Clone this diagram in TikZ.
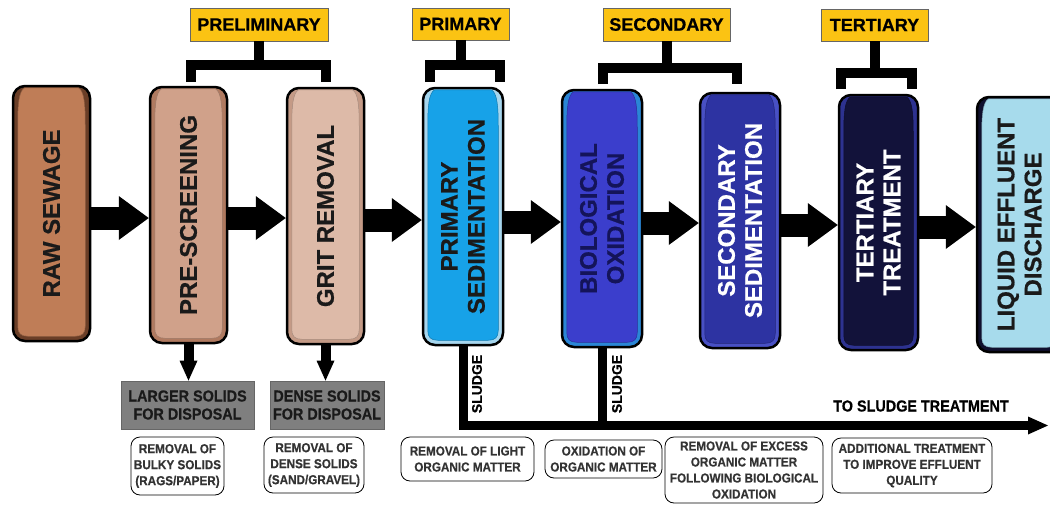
\documentclass[tikz,border=0pt]{standalone}
\usepackage{fontspec}
\setmainfont{Liberation Sans}
\newfontfamily\heavyfont{Liberation Sans}[BoldFeatures={FakeBold=0.6}]
\newfontfamily\narrowfont{Liberation Sans}[FakeStretch=0.9, BoldFeatures={FakeBold=0.5}]
\usetikzlibrary{arrows.meta,calc}

\definecolor{rawOut}{HTML}{6A3E27}\definecolor{rawIn}{HTML}{BF7D57}
\definecolor{preOut}{HTML}{B07A60}\definecolor{preIn}{HTML}{D0A18A}
\definecolor{gritOut}{HTML}{C49A86}\definecolor{gritIn}{HTML}{DDBAA8}
\definecolor{primOut}{HTML}{A6D6EE}\definecolor{primIn}{HTML}{17A2E8}
\definecolor{bioOut}{HTML}{2A86D6}\definecolor{bioIn}{HTML}{3B3ECC}
\definecolor{secOut}{HTML}{4850C4}\definecolor{secIn}{HTML}{2D33A2}
\definecolor{terOut}{HTML}{2D3290}\definecolor{terIn}{HTML}{12123A}
\definecolor{liqOut}{HTML}{10102E}\definecolor{liqIn}{HTML}{A7DBEC}
\definecolor{labelYellow}{HTML}{FBC313}
\definecolor{solidGray}{HTML}{7F7F7F}
\definecolor{darkText}{HTML}{1A1A1A}
\definecolor{descText}{HTML}{333333}
\definecolor{bioText}{HTML}{14145A}

\newcommand\stagebox[9]{%
  \node[stage, fill=#6, minimum width={(#4-#2)*1pt}, minimum height={(#5-#3)*1pt}] (#1) at ({(#2+#4)/2},{(#3+#5)/2}) {};
  \path[fill=#7, draw=#7!75!black, line width=0.5pt]
    ($(#1.north west)+(13,3)$) .. controls ($(#1.north west)+(7,6)$) and ($(#1.north west)+(6,20)$) .. ($(#1.north west)+(6,40)$)
    -- ($(#1.south west)+(6,-16)$) .. controls ($(#1.south west)+(6,-9)$) and ($(#1.south west)+(9,-6)$) .. ($(#1.south west)+(16,-6)$)
    -- ($(#1.south east)+(-16,-6)$) .. controls ($(#1.south east)+(-9,-6)$) and ($(#1.south east)+(-6,-9)$) .. ($(#1.south east)+(-6,-16)$)
    -- ($(#1.north east)+(-6,40)$) .. controls ($(#1.north east)+(-6,20)$) and ($(#1.north east)+(-7,6)$) .. ($(#1.north east)+(-13,3)$)
    -- cycle;
  \node[stagetext, text=#8] (#1t) at (#1.center) {#9};
}

\begin{document}
\begin{tikzpicture}[x=1pt,y=-1pt,
  stage/.style={draw=black, line width=2.5pt, rounded corners=12pt, inner sep=0pt},
  stagetext/.style={rotate=90, align=center, font=\heavyfont\bfseries\fontsize{24}{27}\selectfont},
  flow/.style={line width=23pt, -{Triangle[length=30pt,width=44pt,line width=0pt]}},
  downflow/.style={line width=10pt, -{Triangle[length=20pt,width=18pt,line width=0pt]}},
  sludgeline/.style={line width=9pt, line join=miter},
  bracket/.style={line width=10pt, line join=miter},
  phase/.style={fill=labelYellow, draw=black!60, line width=0.8pt, inner sep=0pt, font=\heavyfont\bfseries\fontsize{18}{20}\selectfont, text=black},
  solids/.style={fill=solidGray, draw=black!60, line width=0.8pt, inner sep=0pt, align=center, text=darkText, font=\narrowfont\bfseries\fontsize{16}{18}\selectfont},
  desc/.style={fill=white, draw=black, line width=0.8pt, rounded corners=9pt, inner sep=0pt, align=center, text=descText, font=\narrowfont\bfseries\fontsize{13}{16}\selectfont},
  sludgetext/.style={rotate=90, font=\heavyfont\bfseries\fontsize{14}{16}\selectfont, text=black}
]
\fill[white] (0,0) rectangle (1050,504);
\useasboundingbox (0,0) rectangle (1050,504);

% stage boxes
\stagebox{raw}{13}{86}{90}{341}{rawOut}{rawIn}{darkText}{RAW SEWAGE}
\stagebox{pre}{150}{87}{227}{343}{preOut}{preIn}{darkText}{PRE-SCREENING}
\stagebox{grit}{287}{88}{364}{344}{gritOut}{gritIn}{darkText}{GRIT REMOVAL}
\stagebox{prim}{423}{88}{503}{345}{primOut}{primIn}{darkText}{PRIMARY\\SEDIMENTATION}
\stagebox{bio}{562}{90}{642}{347}{bioOut}{bioIn}{bioText}{BIOLOGICAL\\OXIDATION}
\stagebox{sec}{700}{93}{780}{348}{secOut}{secIn}{white}{SECONDARY\\SEDIMENTATION}
\stagebox{ter}{839}{95}{918}{350}{terOut}{terIn}{white}{TERTIARY\\TREATMENT}
\stagebox{liq}{977}{97}{1062}{352}{liqOut}{liqIn}{darkText}{LIQUID EFFLUENT\\DISCHARGE}

% flow arrows
\coordinate (ya) at (0,218);
\coordinate (yb) at (0,218);
\coordinate (yc) at (0,220);
\coordinate (yd) at (0,222);
\coordinate (ye) at (0,223);
\coordinate (yf) at (0,225);
\coordinate (yg) at (0,227);
\draw[flow] (raw.east |- ya) -- (pre.west |- ya);
\draw[flow] (pre.east |- yb) -- (grit.west |- yb);
\draw[flow] (grit.east |- yc) -- (prim.west |- yc);
\draw[flow] (prim.east |- yd) -- (bio.west |- yd);
\draw[flow] (bio.east |- ye) -- (sec.west |- ye);
\draw[flow] (sec.east |- yf) -- (ter.west |- yf);
\draw[flow] (ter.east |- yg) -- (liq.west |- yg);

% phase labels
\node[phase, minimum width=138pt, minimum height=33pt] (prelim) at (259,24.5) {PRELIMINARY};
\node[phase, minimum width=97pt, minimum height=32pt] (primary) at (460.5,24) {PRIMARY};
\node[phase, minimum width=127pt, minimum height=33pt] (secondary) at (666.5,24.5) {SECONDARY};
\node[phase, minimum width=107pt, minimum height=32pt] (tertiary) at (874.5,25) {TERTIARY};

% brackets
\draw[bracket] (prelim.south) -- ++(0,25);
\draw[bracket] (191,82) |- (326,65) -- (326,82);
\draw[bracket] (primary.south) -- ++(0,26);
\draw[bracket] (430,82) |- (500,65) -- (500,82);
\draw[bracket] (secondary.south) -- ++(0,27);
\draw[bracket] (603,84) |- (737,67.5) -- (737,84);
\draw[bracket] (tertiary.south) -- ++(0,32);
\draw[bracket] (841,89) |- (912,72.5) -- (912,89);

% solids boxes
\node[solids, minimum width=133pt, minimum height=48pt] (larger) at (187.5,405) {LARGER SOLIDS\\FOR DISPOSAL};
\node[solids, minimum width=114pt, minimum height=48pt] (dense) at (327,405) {DENSE SOLIDS\\FOR DISPOSAL};
\draw[downflow] (pre.south) -- (pre.south |- larger.north);
\draw[downflow] (grit.south) -- (grit.south |- dense.north);

% sludge lines
\coordinate (sludgeEnd) at (1048,425.5);
\draw[sludgeline, -{Triangle[length=20pt,width=18pt,line width=0pt]}] (prim.south) |- (sludgeEnd);
\draw[sludgeline] (bio.south) -- (bio.south |- sludgeEnd);
\node[sludgetext] (sl1) at (477,384) {SLUDGE};
\node[sludgetext] (sl2) at (617,384) {SLUDGE};
\node[font=\narrowfont\bfseries\fontsize{16}{18}\selectfont, text=black] (tosl) at (921,406) {TO SLUDGE TREATMENT};

% description boxes
\node[desc, minimum width=93pt, minimum height=58pt] (d1) at (177.5,466) {REMOVAL OF\\BULKY SOLIDS\\(RAGS/PAPER)};
\node[desc, minimum width=100pt, minimum height=56pt] (d2) at (314,465) {REMOVAL OF\\DENSE SOLIDS\\(SAND/GRAVEL)};
\node[desc, minimum width=133pt, minimum height=44pt] (d3) at (467.5,459) {REMOVAL OF LIGHT\\ORGANIC MATTER};
\node[desc, minimum width=117pt, minimum height=38pt] (d4) at (603.5,459) {OXIDATION OF\\ORGANIC MATTER};
\node[desc, minimum width=158pt, minimum height=66pt] (d5) at (744,470) {REMOVAL OF EXCESS\\ORGANIC MATTER\\FOLLOWING BIOLOGICAL\\OXIDATION};
\node[desc, minimum width=160pt, minimum height=55pt] (d6) at (912,465.5) {ADDITIONAL TREATMENT\\TO IMPROVE EFFLUENT\\QUALITY};
\end{tikzpicture}
\end{document}
